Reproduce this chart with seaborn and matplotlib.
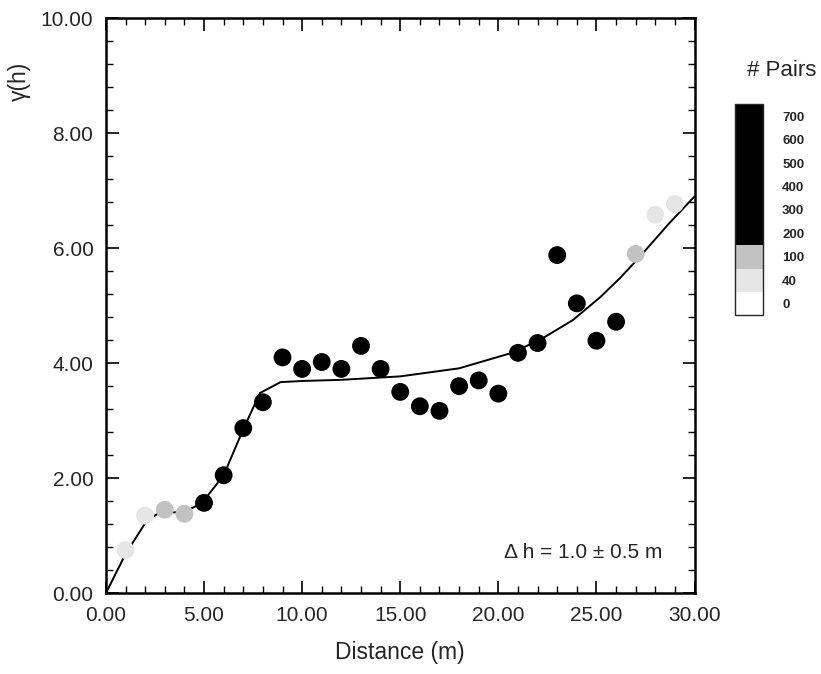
import numpy as np
import pandas as pd
import matplotlib
matplotlib.use("Agg")
import matplotlib.pyplot as plt
from matplotlib.colors import ListedColormap, BoundaryNorm
from matplotlib.colorbar import ColorbarBase
import seaborn as sns

# experimental semivariogram points (lag distance, gamma, number of pairs)
lag = [1, 2, 3, 4, 5, 6, 7, 8, 9, 10, 11, 12, 13, 14, 15,
       16, 17, 18, 19, 20, 21, 22, 23, 24, 25, 26, 27, 28, 29]
gamma = [0.75, 1.35, 1.45, 1.38, 1.57, 2.05, 2.87, 3.32, 4.10, 3.90, 4.02, 3.90, 4.30, 3.90, 3.50,
         3.25, 3.17, 3.60, 3.70, 3.47, 4.18, 4.35, 5.88, 5.04, 4.39, 4.72, 5.90, 6.58, 6.77]
pairs = [70, 90, 160, 180, 250, 320, 380, 430, 470, 510, 540, 560, 580, 600, 610,
         620, 630, 640, 620, 600, 570, 520, 470, 400, 340, 260, 150, 80, 50]

# fitted model curve
model_x = [0, 1, 2.1, 2.75, 4.0, 4.9, 6, 7, 7.85, 8.9, 10, 12, 15, 18, 20.6,
           22.1, 23.8, 25.2, 26.2, 27.05, 28.7, 30]
model_y = [0, 0.68, 1.27, 1.40, 1.41, 1.57, 2.05, 2.85, 3.48, 3.67, 3.69, 3.71, 3.77, 3.91, 4.17,
           4.40, 4.75, 5.15, 5.48, 5.79, 6.43, 6.90]

# legend classes for number of pairs
class_edges = [0, 40, 100, 200, 300, 400, 500, 600, 700]
class_colors = ["#ffffff", "#e6e6e6", "#c2c2c2", "#000000", "#000000",
                "#000000", "#000000", "#000000", "#000000"]

sns.set_style("ticks")
plt.rcParams["font.family"] = ["Liberation Sans", "DejaVu Sans"]

df = pd.DataFrame({"lag": lag, "gamma": gamma, "pairs": pairs})
df["cls"] = np.digitize(df["pairs"], class_edges) - 1
df["cls"] = df["cls"].astype(str)
palette = {str(i): c for i, c in enumerate(class_colors)}

fig = plt.figure(figsize=(8.21, 6.74), dpi=100)
ax = fig.add_axes([0.129, 0.120, 0.717, 0.853])

sns.lineplot(x=model_x, y=model_y, sort=False, color="black", linewidth=1.4, ax=ax, zorder=2)
sns.scatterplot(data=df, x="lag", y="gamma", hue="cls", palette=palette, s=165,
                edgecolor="none", legend=False, ax=ax, zorder=3)

ax.set_xlim(0, 30)
ax.set_ylim(0, 10)
ax.set_xticks(np.arange(0, 31, 5))
ax.set_xticks(np.arange(0, 31, 1), minor=True)
ax.set_yticks(np.arange(0, 11, 2))
ax.set_yticks(np.arange(0, 10.01, 0.4), minor=True)
ax.xaxis.set_major_formatter(matplotlib.ticker.FormatStrFormatter("%.2f"))
ax.yaxis.set_major_formatter(matplotlib.ticker.FormatStrFormatter("%.2f"))
ax.tick_params(which="both", direction="in", top=True, right=True, labelsize=15, color="black")
ax.tick_params(which="major", length=9, width=1.2)
ax.tick_params(axis="x", which="major", pad=9)
ax.tick_params(axis="y", which="major", pad=9)
ax.tick_params(which="minor", length=5, width=1.0)
for sp in ax.spines.values():
    sp.set_linewidth(1.8)
    sp.set_color("black")

ax.set_xlabel("Distance (m)", fontsize=16.5, labelpad=12)
ax.set_ylabel("γ(h)", fontsize=16.5)
ax.yaxis.set_label_coords(-0.128, 0.89)

ax.text(24.3, 0.71, "Δ h = 1.0 ± 0.5 m", fontsize=15, ha="center", va="center")

# number of pairs legend bar
cax = fig.add_axes([0.895, 0.532, 0.034, 0.313])
cmap = ListedColormap(class_colors)
norm = BoundaryNorm(np.arange(0, len(class_colors) + 1), cmap.N)
cb = ColorbarBase(cax, cmap=cmap, norm=norm, orientation="vertical")
cb.set_ticks(np.arange(len(class_edges)) + 0.5)
cb.set_ticklabels([str(v) for v in class_edges])
cax.minorticks_off()
cax.tick_params(which="both", length=0, labelsize=9.5, pad=14)
for lbl in cax.get_yticklabels():
    lbl.set_fontweight("bold")
cb.outline.set_linewidth(1.0)
fig.text(0.952, 0.896, "# Pairs", fontsize=16, ha="center", va="center")

fig.savefig("out.png", dpi=100)
